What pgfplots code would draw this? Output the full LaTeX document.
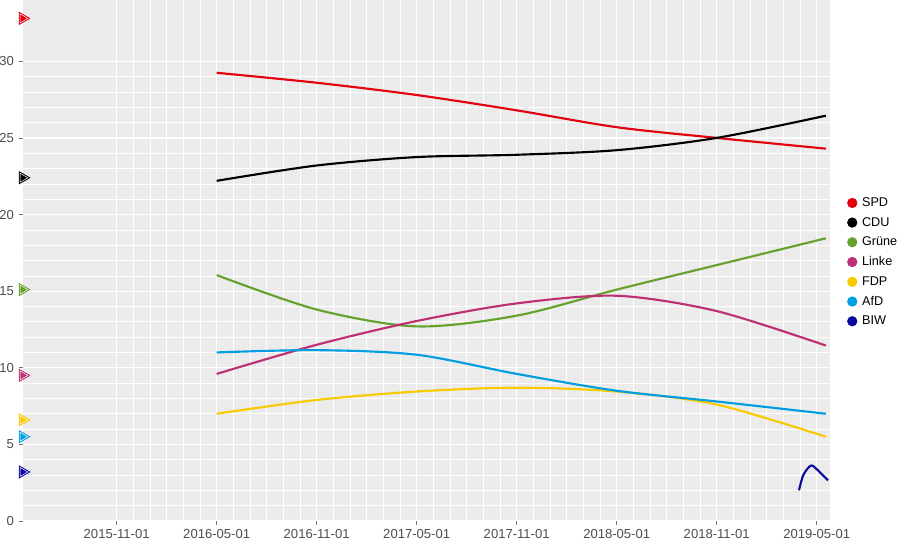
\documentclass[border=0pt]{standalone}
\usepackage{pgfplots}
\pgfplotsset{compat=1.18}
\usepackage{fontspec}
\setmainfont{Liberation Sans}

\definecolor{panel}{HTML}{EBEBEB}
\definecolor{tickgrey}{HTML}{4D4D4D}
\definecolor{spd}{HTML}{E3000F}
\definecolor{cdu}{HTML}{000000}
\definecolor{gruene}{HTML}{64A12D}
\definecolor{linke}{HTML}{BE3075}
\definecolor{fdp}{HTML}{F7CB00}
\definecolor{afd}{HTML}{009EE0}
\definecolor{biw}{HTML}{0A0AA0}

% election result 2015 marker: coloured triangle with white inner rim
\newcommand{\result}[2]{%
  \addplot[only marks, forget plot, mark=triangle*, mark size=5.4pt,
    mark options={rotate=-90, draw=#1, fill=#1, line width=0.4pt}] coordinates {(-5.64,#2)};
  \addplot[only marks, forget plot, mark=triangle*, mark size=3.9pt,
    mark options={rotate=-90, draw=white, fill=#1, line width=0.35pt}] coordinates {(-5.64,#2)};
}

\begin{document}
\begin{tikzpicture}
\begin{axis}[
  at={(0,0)}, anchor=south west,
  scale only axis,
  width=605.5pt, height=390.75pt,
  xmin=-5.64, xmax=42.8,
  ymin=0, ymax=34,
  axis background/.style={fill=panel},
  axis line style={draw=none},
  xtick={0,6,...,42},
  xticklabels={2015-11-01,2016-05-01,2016-11-01,2017-05-01,2017-11-01,2018-05-01,2018-11-01,2019-05-01},
  ytick={0,5,...,30},
  xtick pos=bottom, ytick pos=left,
  minor x tick num=5,
  minor y tick num=4,
  grid=both,
  major grid style={white, line width=0.9pt},
  minor grid style={white, line width=0.45pt},
  tick align=outside,
  major tick length=3pt,
  minor tick length=0pt,
  tick style={color=tickgrey!80, line width=0.5pt},
  ticklabel style={font=\fontsize{9.8}{11}\selectfont, text=tickgrey},
  /pgf/number format/assume math mode=true,
  clip=false,
  legend style={at={(1.016,0.497)}, anchor=west, draw=none, fill=none,
    font=\fontsize{9.5}{11}\selectfont, row sep=2.6pt},
  legend cell align=left,
  legend image code/.code={\fill (0.08cm,0cm) circle (3pt); \path (0.24cm,0cm);},
]
% smoothed poll trends (months since 2015-11-01)
\addplot[spd, line width=1.6pt, smooth] coordinates {
  (6,29.25) (12,28.6) (18,27.8) (24,26.8) (30,25.7) (36,25.0) (42.55,24.3)};
\addlegendentry{SPD}
\addplot[cdu, line width=1.6pt, smooth] coordinates {
  (6,22.2) (12,23.2) (18,23.75) (24,23.9) (30,24.2) (36,25.0) (42.55,26.45)};
\addlegendentry{CDU}
\addplot[gruene, line width=1.6pt, smooth] coordinates {
  (6,16.05) (12,13.8) (18,12.7) (24,13.4) (30,15.1) (36,16.7) (42.55,18.45)};
\addlegendentry{Grüne}
\addplot[linke, line width=1.6pt, smooth] coordinates {
  (6,9.6) (12,11.5) (18,13.05) (24,14.2) (30,14.7) (36,13.7) (42.55,11.45)};
\addlegendentry{Linke}
\addplot[fdp, line width=1.6pt, smooth] coordinates {
  (6,7.0) (12,7.9) (18,8.45) (24,8.7) (30,8.45) (36,7.6) (42.55,5.5)};
\addlegendentry{FDP}
\addplot[afd, line width=1.6pt, smooth] coordinates {
  (6,11.0) (12,11.15) (18,10.85) (24,9.6) (30,8.5) (36,7.8) (42.55,7.0)};
\addlegendentry{AfD}
\addplot[biw, line width=1.6pt, smooth] coordinates {
  (40.94,2.0) (41.2,3.0) (41.66,3.62) (42.08,3.3) (42.68,2.65)};
\addlegendentry{BIW}
% election result 2015 (left edge)
\result{spd}{32.8}
\result{cdu}{22.4}
\result{gruene}{15.1}
\result{linke}{9.5}
\result{fdp}{6.6}
\result{afd}{5.5}
\result{biw}{3.2}
\end{axis}
\pgfresetboundingbox
\path[use as bounding box] (-17pt,-14.25pt) rectangle (658pt,390.75pt);
\end{tikzpicture}
\end{document}
